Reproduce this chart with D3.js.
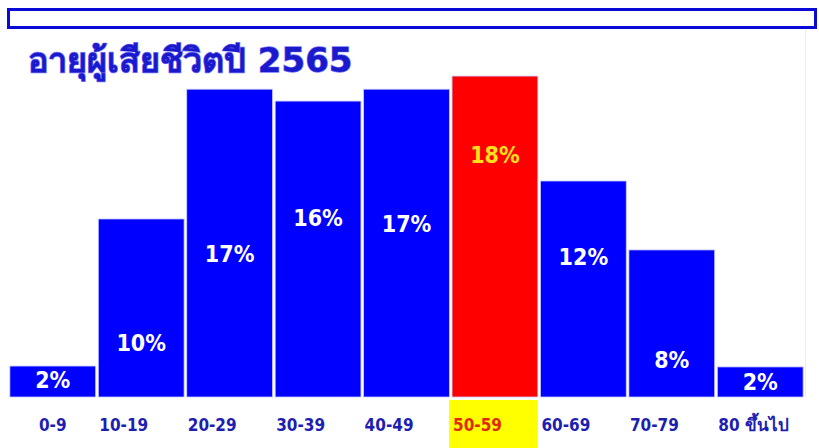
<!DOCTYPE html>
<html>
<head>
<meta charset="utf-8">
<script src="https://cdn.jsdelivr.net/npm/d3@7"></script>
<style>
  body { margin: 0; background: #fff; }
  svg { display: block; }
</style>
</head>
<body>
<div id="chart"></div>
<script>
var title = "อายุผู้เสียชีวิตปี 2565";
var ages = ["0-9", "10-19", "20-29", "30-39", "40-49", "50-59", "60-69", "70-79", "80 ขึ้นไป"];
var shares = [1.72, 9.89, 17.1, 16.44, 17.1, 17.83, 12.0, 8.17, 1.67];
// where each % label sits, in % units
var labelAt = [0.95, 3.0, 7.95, 9.95, 9.65, 13.45, 7.8, 2.05, 0.85];
var highlight = "50-59";

(function(){
  var width = 819,
      height = 448,
      blue = "#0000ff",
      red = "#ff0000",
      ink = "#1e1eb0";

  var svg = d3.select("#chart")
    .append("svg")
    .attr("width", width)
    .attr("height", height)

  var data = ages.map(function(a, i){
    return {age: a, v: shares[i], at: labelAt[i]}
  })

  var x = d3.scaleBand().domain(ages).range([9, 804]).paddingInner(0.03).paddingOuter(0.01)
  var y = d3.scaleLinear().domain([0, 20]).range([397, 37])

  // frame box at top
  svg.append("rect")
    .attr("x", 8.5).attr("y", 9.5)
    .attr("width", 807).attr("height", 18)
    .attr("fill", "#fff")
    .attr("stroke", "#0a0ad8")
    .attr("stroke-width", 3)

  // faint right edge line
  svg.append("line")
    .attr("x1", 805.5).attr("x2", 805.5)
    .attr("y1", 30).attr("y2", 397)
    .attr("stroke", "#ececec")

  svg.append("text")
    .attr("x", 28).attr("y", 72)
    .attr("font-family", "Tahoma, 'DejaVu Sans', 'Noto Sans', sans-serif")
    .attr("font-weight", "bold")
    .attr("font-size", "34px")
    .attr("fill", "#1a1acc")
    .attr("stroke", "#8080ff")
    .attr("stroke-width", 1.3)
    .attr("paint-order", "stroke")
    .text(title)

  svg.selectAll(".bar")
    .data(data)
    .enter().append("rect")
    .attr("class", "bar")
    .attr("x", function(d){ return x(d.age) })
    .attr("width", x.bandwidth())
    .attr("y", function(d){ return y(d.v) })
    .attr("height", function(d){ return y(0) - y(d.v) })
    .attr("fill", function(d){ return d.age === highlight ? red : blue })
    .attr("stroke", "#c8c8ff")
    .attr("stroke-width", 0.8)

  svg.selectAll(".pct")
    .data(data)
    .enter().append("text")
    .attr("class", "pct")
    .attr("x", function(d){ return x(d.age) + x.bandwidth() / 2 })
    .attr("y", function(d){ return y(d.at) })
    .attr("dy", "0.36em")
    .attr("text-anchor", "middle")
    .attr("font-family", "'DejaVu Sans Condensed', 'DejaVu Sans', sans-serif")
    .attr("font-weight", "bold")
    .attr("font-size", "23px")
    .attr("fill", function(d){ return d.age === highlight ? "#ffe01a" : "#fff" })
    .text(function(d){ return Math.round(d.v) + "%" })

  // yellow cell behind highlighted tick
  svg.append("rect")
    .attr("x", x(highlight) - 3)
    .attr("y", 400)
    .attr("width", x.bandwidth() + 3)
    .attr("height", 48)
    .attr("fill", "#ffff00")

  var ticks = svg.selectAll(".tick")
    .data(data)
    .enter().append("text")
    .attr("class", "tick")
    .attr("y", 425)
    .attr("dy", "0.36em")
    .attr("font-family", "'DejaVu Sans Condensed', 'DejaVu Sans', sans-serif")
    .attr("font-weight", "bold")
    .attr("font-size", "17px")
    .attr("fill", function(d){ return d.age === highlight ? "#e02a00" : ink })
    .text(function(d){ return d.age })

  ticks.each(function(d){
    var t = d3.select(this),
        w = this.getComputedTextLength()
    if (w < 40) {
      t.attr("x", x(d.age) + x.bandwidth() / 2).attr("text-anchor", "middle")
    } else {
      t.attr("x", x(d.age) + 1).attr("text-anchor", "start")
    }
  })
})();
</script>
</body>
</html>
